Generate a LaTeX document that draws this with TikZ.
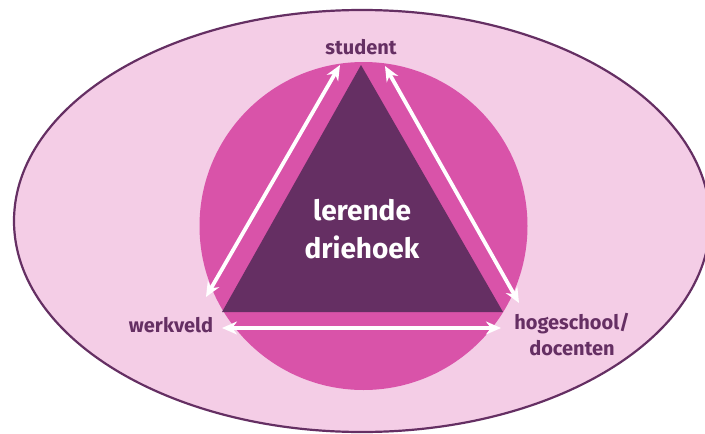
\documentclass[tikz,border=0pt]{standalone}
\usepackage{fontspec}
\setmainfont{Fira Sans}
\usetikzlibrary{arrows.meta}
\definecolor{bgpink}{HTML}{F4CDE6}
\definecolor{magenta}{HTML}{D953A9}
\definecolor{darkpurple}{HTML}{652F63}
\tikzset{
  lbl/.style={text=darkpurple, font=\bfseries\fontsize{20}{26}\selectfont, inner sep=0pt, align=center},
  biarrow/.style={draw=white, line width=3.8pt, {Stealth[length=15pt,width=13pt]}-{Stealth[length=15pt,width=13pt]}},
}
\begin{document}
\begin{tikzpicture}[x=1pt,y=-1pt]
\useasboundingbox (0,0) rectangle (705,434);
\clip (0,0) rectangle (705,434);
\fill[white] (0,0) rectangle (705,434);
\draw[fill=bgpink, draw=darkpurple, line width=2.2pt] (362,221) ellipse [x radius=348, y radius=211];
\fill[magenta] (363.5,226) circle [radius=164];
\fill[darkpurple] (361,65) -- (222,312) -- (503,312) -- cycle;
\node[text=white, font=\bfseries\fontsize{28}{38}\selectfont, align=center, inner sep=0pt] (center) at (362,229) {lerende\\driehoek};
\node[lbl] (student) at (361,47) {student};
\node[lbl] (werkveld) at (171,325) {werkveld};
\node[lbl] (hoge) at (572,335) {hogeschool/\\docenten};
\coordinate (sL) at (340,65);
\coordinate (wT) at (206,297);
\coordinate (sR) at (385,66);
\coordinate (hT) at (519,303);
\coordinate (wB) at (222,328);
\coordinate (hB) at (501,328);
\draw[biarrow] (sL) -- (wT);
\draw[biarrow] (sR) -- (hT);
\draw[biarrow] (wB) -- (hB);
\end{tikzpicture}
\end{document}
